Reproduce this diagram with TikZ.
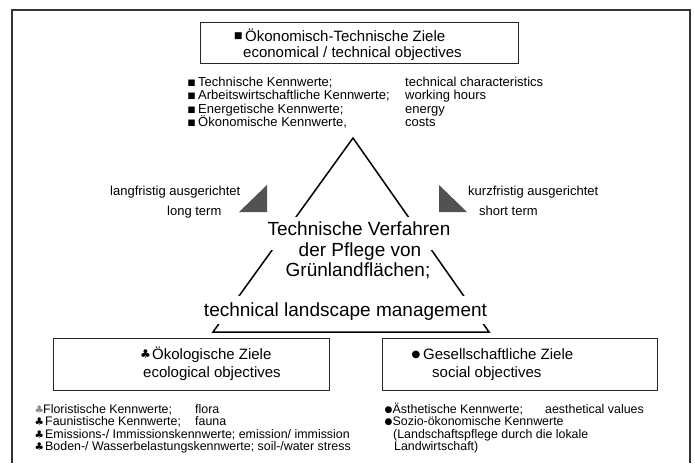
\documentclass[tikz,border=0pt]{standalone}
\usepackage{fontspec}
\setmainfont{Liberation Sans}
\newfontfamily\symf{DejaVu Sans}
\usetikzlibrary{fit}
\begin{document}
\begin{tikzpicture}[x=1pt,y=-1pt,
  frame/.style={line width=1.6pt, draw=black!80},
  goalbox/.style={draw=black!85, line width=0.9pt, inner sep=0pt},
  tri/.style={line width=1.5pt, line join=miter},
  tgray/.style={fill=black!68},
  lbl/.style={anchor=base west, inner sep=0pt, font=\fontsize{13}{13}\selectfont},
  big/.style={anchor=base, inner sep=0pt, font=\fontsize{19}{19}\selectfont},
  boxt/.style={anchor=base west, inner sep=0pt, font=\fontsize{15}{15}\selectfont},
  small/.style={anchor=base west, inner sep=0pt, font=\fontsize{12.4}{12.4}\selectfont},
  sq/.style={anchor=base west, inner sep=0pt, font=\symf\fontsize{8.5}{8.5}\selectfont},
  boxsym/.style={anchor=base west, inner sep=0pt, font=\symf\fontsize{9}{9}\selectfont},
  club/.style={anchor=base west, inner sep=0pt, font=\symf\fontsize{10.5}{10.5}\selectfont},
  dot/.style={anchor=base west, inner sep=0pt, font=\symf\fontsize{9}{9}\selectfont}
]
\useasboundingbox (0,0) rectangle (695,463);
% frame
\draw[frame] (12,463) -- (12,10) -- (690,10) -- (690,463);

% goal boxes
\node[goalbox, fit={(200,22) (518,63)}] (tb) {};
\node[goalbox, fit={(53,338) (329,390)}] (eb) {};
\node[goalbox, fit={(382,338) (657,390)}] (sb) {};

% top box text
\node[boxsym, yshift=3pt] (tbs) at (234,41.5) {■};
\node[boxt] (tb1) at (245,41.5) {Ökonomisch-Technische Ziele};
\node[boxt] (tb2) at (243,57) {economical / technical objectives};

% top list
\node[sq, yshift=1pt] (q1) at (187.5,86) {■};
\node[lbl] (t1) at (198,86) {Technische Kennwerte;};
\node[lbl] (e1) at (405,86) {technical characteristics};
\node[sq, yshift=1pt] (q2) at (187.5,99.5) {■};
\node[lbl] (t2) at (198,99.5) {Arbeitswirtschaftliche Kennwerte;};
\node[lbl] (e2) at (405,99.5) {working hours};
\node[sq, yshift=1pt] (q3) at (187.5,113) {■};
\node[lbl] (t3) at (198,113) {Energetische Kennwerte;};
\node[lbl] (e3) at (405,113) {energy};
\node[sq, yshift=1pt] (q4) at (187.5,126.5) {■};
\node[lbl] (t4) at (198,126.5) {Ökonomische Kennwerte,};
\node[lbl] (e4) at (405,126.5) {costs};

% triangle
\coordinate (apex) at (353,138);
\coordinate (lc) at (213,332);
\coordinate (rc) at (489,332);
\draw[tri] (apex) -- (lc) -- (rc) -- cycle;
\fill[white] (262,217) rectangle (456,250);
\fill[white] (198,296) rectangle (502,324);

% centre text
\node[big] (c1) at (359,235) {Technische Verfahren};
\node[big] (c2) at (360,256.5) {der Pflege von};
\node[big] (c3) at (358,276.5) {Grünlandflächen;};
\node[big] (c4) at (345.5,316) {technical landscape management};

% time-horizon wedges
\fill[tgray] (239,212) -- (267,212) -- (267,185) -- cycle;
\fill[tgray] (439,185) -- (439,212) -- (467,212) -- cycle;
\node[lbl] (lf) at (110,195.5) {langfristig ausgerichtet};
\node[lbl] (lt) at (167,215) {long term};
\node[lbl] (kf) at (468,195.5) {kurzfristig ausgerichtet};
\node[lbl] (st) at (479,215.5) {short term};

% ecological box
\node[club, font=\symf\fontsize{12}{12}\selectfont, yshift=1pt] (ebs) at (140,359) {♣};
\node[boxt] (eb1) at (152,359) {Ökologische Ziele};
\node[boxt] (eb2) at (143,377.5) {ecological objectives};

% social box
\node[dot, font=\symf\fontsize{10}{10}\selectfont, yshift=2pt] (sbs) at (411.5,359) {●};
\node[boxt] (sb1) at (423,359) {Gesellschaftliche Ziele};
\node[boxt] (sb2) at (432,377.5) {social objectives};

% ecological list
\node[club, text=black!45] (k1) at (34.5,413.3) {♣};
\node[small] (f1) at (43,413.3) {Floristische Kennwerte;};
\node[small] (g1) at (195,413.3) {flora};
\node[club] (k2) at (34.5,425.8) {♣};
\node[small] (f2) at (45,425.8) {Faunistische Kennwerte;};
\node[small] (g2) at (195,425.8) {fauna};
\node[club] (k3) at (34.5,438.3) {♣};
\node[small] (f3) at (45,438.3) {Emissions-/ Immissionskennwerte; emission/ immission};
\node[club] (k4) at (34.5,450.8) {♣};
\node[small] (f4) at (45,450.8) {Boden-/ Wasserbelastungskennwerte; soil-/water stress};

% social list
\node[dot, yshift=1pt] (d1) at (384.5,413.3) {●};
\node[small] (s1) at (392.5,413.3) {Ästhetische Kennwerte;};
\node[small] (a1) at (545,413.3) {aesthetical values};
\node[dot, yshift=1pt] (d2) at (384.5,425.8) {●};
\node[small] (s2) at (392.5,425.8) {Sozio-ökonomische Kennwerte};
\node[small] (s3) at (393,438.3) {(Landschaftspflege durch die lokale};
\node[small] (s4) at (394,450.8) {Landwirtschaft)};
\end{tikzpicture}
\end{document}
